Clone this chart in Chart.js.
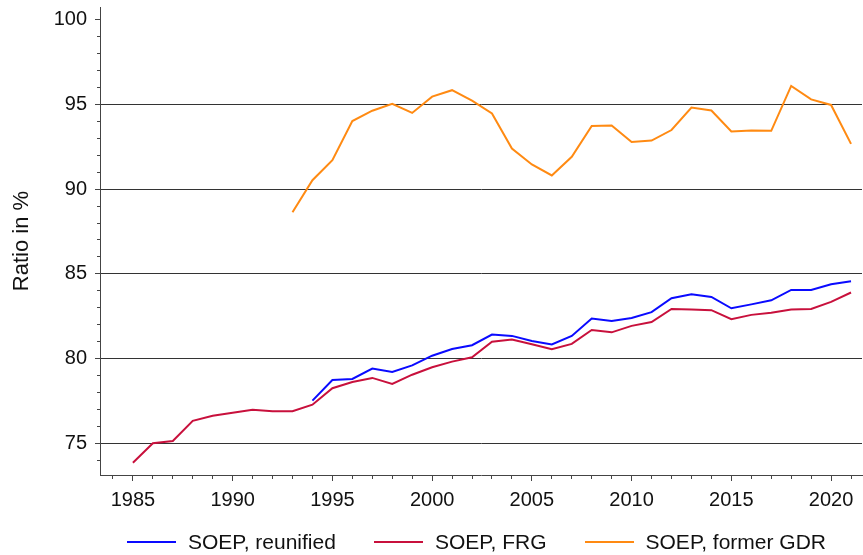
<!DOCTYPE html>
<html>
<head>
<meta charset="utf-8">
<script src="https://cdn.jsdelivr.net/npm/chart.js@4.4.1/dist/chart.umd.min.js"></script>
<style>
  html, body { margin: 0; padding: 0; background: #fff; }
  #wrap { position: relative; width: 863px; height: 555px; }
  #legend {
    position: absolute; left: 127px; top: 530px; display: flex; align-items: center;
    font: 21px "Liberation Sans", Arial, sans-serif; line-height: 24px; color: #111; white-space: nowrap;
  }
  #legend .item { display: flex; align-items: center; margin-right: 38px; }
  #legend .swatch { width: 49px; height: 2px; margin-right: 12px; }
</style>
</head>
<body>
<div id="wrap">
  <canvas id="ratioChart" width="863" height="555"></canvas>
  <div id="legend"></div>
</div>
<script>
// ===== Data =====
const years = [
  1985, 1986, 1987, 1988, 1989, 1990, 1991, 1992, 1993, 1994,
  1995, 1996, 1997, 1998, 1999, 2000, 2001, 2002, 2003, 2004,
  2005, 2006, 2007, 2008, 2009, 2010, 2011, 2012, 2013, 2014,
  2015, 2016, 2017, 2018, 2019, 2020, 2021
];

const reunified = [
  null, null, null, null, null, null, null, null, null, 77.52,
  78.74, 78.80, 79.41, 79.21, 79.60, 80.17, 80.57, 80.79, 81.42, 81.34,
  81.04, 80.83, 81.34, 82.36, 82.22, 82.40, 82.74, 83.56, 83.80, 83.64,
  82.97, 83.20, 83.44, 84.05, 84.05, 84.39, 84.57
];

const frg = [
  73.85, 75.00, 75.14, 76.33, 76.63, 76.81, 76.98, 76.89, 76.89, 77.28,
  78.25, 78.62, 78.86, 78.50, 79.05, 79.49, 79.82, 80.08, 81.00, 81.12,
  80.85, 80.55, 80.87, 81.69, 81.55, 81.93, 82.16, 82.93, 82.90, 82.86,
  82.32, 82.58, 82.70, 82.90, 82.93, 83.35, 83.90
];

const formerGdr = [
  null, null, null, null, null, null, null, null, 88.64, 90.53,
  91.71, 94.02, 94.63, 95.04, 94.50, 95.46, 95.84, 95.22, 94.47, 92.40,
  91.46, 90.81, 91.91, 93.73, 93.76, 92.78, 92.87, 93.49, 94.82, 94.64,
  93.40, 93.46, 93.44, 96.09, 95.30, 94.97, 92.67
];

const xMajorTicks = [1985, 1990, 1995, 2000, 2005, 2010, 2015, 2020];
const xMinorTicks = [1984].concat(years);
const yMajorTicks = [75, 80, 85, 90, 95, 100];
const yMinorTicks = [74, 75, 76, 77, 78, 79, 80, 81, 82, 83, 84, 85, 86, 87, 88, 89, 90, 91, 92, 93, 94, 95, 96, 97, 98, 99, 100];

const seriesLabels = ['SOEP, reunified', 'SOEP, FRG', 'SOEP, former GDR'];

// ===== Styling =====
const FONT = '"Liberation Sans", Arial, sans-serif';
const COLORS = { blue: '#0a0aff', red: '#c8103c', orange: '#ff8a12', axis: '#444', grid: '#333', text: '#111' };
const X_RANGE = { min: 1983.35, max: 2021.55 };
const Y_RANGE = { min: 73.13, max: 100.75 };

const toPoints = vals => years.map((x, i) => ({ x, y: vals[i] }));
const setTicks = list => scale => { scale.ticks = list.map(value => ({ value })); };
// keep label overhang from pushing the plot area around
const noPad = s => { s.paddingTop = 0; s.paddingBottom = 0; s.paddingLeft = 0; s.paddingRight = 0; };

const lineDataset = (label, vals, color) => ({
  label,
  data: toPoints(vals),
  borderColor: color,
  backgroundColor: color,
  borderWidth: 2,
  pointRadius: 0,
  tension: 0,
  spanGaps: false,
});

const ctx = document.getElementById('ratioChart').getContext('2d');

const chart = new Chart(ctx, {
  type: 'line',
  data: {
    datasets: [
      lineDataset(seriesLabels[0], reunified, COLORS.blue),
      lineDataset(seriesLabels[1], frg, COLORS.red),
      lineDataset(seriesLabels[2], formerGdr, COLORS.orange),
    ]
  },
  options: {
    responsive: false,
    animation: false,
    layout: { padding: { top: 7, right: 1, bottom: 40, left: 0 } },
    plugins: { legend: { display: false }, tooltip: { enabled: false } },
    scales: {
      x: {
        type: 'linear', position: 'bottom', weight: 1, ...X_RANGE,
        afterBuildTicks: setTicks(xMajorTicks),
        afterFit: s => { s.height = 40; noPad(s); },
        grid: { drawOnChartArea: false, tickLength: 6, tickColor: COLORS.axis },
        border: { display: true, color: COLORS.axis, width: 1 },
        ticks: { color: COLORS.text, padding: 7, maxRotation: 0, autoSkip: false, font: { family: FONT, size: 20 }, callback: v => String(v) }
      },
      xMinor: {
        type: 'linear', position: 'bottom', weight: 0, ...X_RANGE,
        afterBuildTicks: setTicks(xMinorTicks),
        afterFit: s => { s.height = 0; noPad(s); },
        grid: { drawOnChartArea: false, tickLength: 4, tickColor: COLORS.axis },
        border: { display: false },
        ticks: { display: false }
      },
      y: {
        type: 'linear', position: 'left', weight: 1, ...Y_RANGE,
        afterBuildTicks: setTicks(yMajorTicks),
        afterFit: s => { s.width = 100; noPad(s); },
        grid: {
          color: c => (c.tick && c.tick.value === 100) ? 'rgba(0,0,0,0)' : COLORS.grid,
          lineWidth: 1, tickLength: 5, tickColor: COLORS.axis
        },
        border: { display: true, color: COLORS.axis, width: 1 },
        ticks: { color: COLORS.text, padding: 8, autoSkip: false, font: { family: FONT, size: 20 }, callback: v => String(v) },
        title: { display: true, text: 'Ratio in %', color: COLORS.text, padding: { top: 9, bottom: 0 }, font: { family: FONT, size: 22 } }
      },
      yMinor: {
        type: 'linear', position: 'left', weight: 0, ...Y_RANGE,
        afterBuildTicks: setTicks(yMinorTicks),
        afterFit: s => { s.width = 0; noPad(s); },
        grid: { drawOnChartArea: false, tickLength: 3, tickColor: COLORS.axis },
        border: { display: false },
        ticks: { display: false }
      }
    }
  }
});

// ===== Legend (built from the datasets) =====
const legendEl = document.getElementById('legend');
chart.data.datasets.forEach(ds => {
  const item = document.createElement('div');
  item.className = 'item';
  item.innerHTML = `<span class="swatch" style="background:${ds.borderColor}"></span><span>${ds.label}</span>`;
  legendEl.appendChild(item);
});
</script>
</body>
</html>
